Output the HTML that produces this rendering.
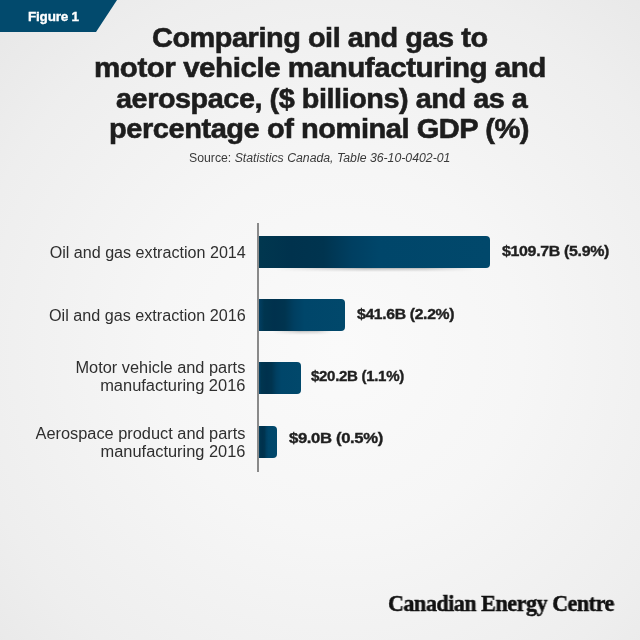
<!DOCTYPE html>
<html><head><meta charset="utf-8">
<style>
html,body{margin:0;padding:0;}
body{width:640px;height:640px;position:relative;overflow:hidden;
 background:radial-gradient(circle 520px at 340px 350px,#fafafa 0%,#f6f6f6 35%,#eeeeee 72%,#e5e5e5 100%);
 font-family:"Liberation Sans",sans-serif;}
.abs{position:absolute;white-space:nowrap;will-change:transform;}
.t{font-weight:bold;font-size:28.5px;color:#1d1d1d;-webkit-text-stroke:0.6px #1d1d1d;letter-spacing:-0.45px;line-height:30px;transform-origin:0 0;}
.lab{font-size:16px;color:#2f2f2f;line-height:18px;transform-origin:100% 0;}
.val{font-weight:bold;font-size:14px;color:#1f1f1f;-webkit-text-stroke:0.35px #1f1f1f;letter-spacing:-0.3px;line-height:16px;transform-origin:0 0;}
.bar{position:absolute;left:258.7px;height:32px;border-radius:0 4px 4px 0;
 background:linear-gradient(90deg,#023f63 0%,#00354f 6%,#00314d 18%,#00344f 30%,#003f61 41%,#00466a 53%,#01486b 100%);}
.shd{position:absolute;height:4px;background:linear-gradient(90deg,rgba(0,0,0,0) 0%,rgba(0,0,0,.3) 45%,rgba(0,0,0,.25) 75%,rgba(0,0,0,0) 100%);-webkit-mask-image:linear-gradient(180deg,#000 0%,rgba(0,0,0,.45) 40%,transparent 100%);}
.axis{position:absolute;left:257px;top:223px;width:1.7px;height:249px;background:#8a8a8a;}
</style></head><body>
<svg class="abs" style="left:0;top:0" width="120" height="34"><polygon points="0,0 117,0 96,32 0,32" fill="#024a6d"/></svg>
<div class="abs" style="left:28px;top:8.6px;font-weight:bold;font-size:13.5px;color:#fff;line-height:16px;-webkit-text-stroke:0.35px #fff;letter-spacing:-0.2px;">Figure 1</div>

<div class="abs t" id="t1" style="left:151.8px;top:22px;transform:scaleX(1.0133)">Comparing oil and gas to</div>
<div class="abs t" id="t2" style="left:93.6px;top:52px;transform:scaleX(1.0371)">motor vehicle manufacturing and</div>
<div class="abs t" id="t3" style="left:116.1px;top:82.8px;transform:scaleX(1.011)">aerospace, ($ billions) and as a</div>
<div class="abs t" id="t4" style="left:108.7px;top:113.4px;transform:scaleX(1.0186)">percentage of nominal GDP (%)</div>

<div class="abs" id="src" style="left:189px;top:151px;transform:scaleX(1.022);transform-origin:0 0;font-size:12px;color:#3a3a3a;line-height:14px;">Source: <i>Statistics Canada, Table 36-10-0402-01</i></div>

<div class="shd" style="left:275px;top:267.5px;width:200px;"></div>
<div class="shd" style="left:272px;top:330.5px;width:60px;opacity:.8"></div>
<div class="axis"></div>
<div class="bar" style="top:236px;width:231.3px;background:linear-gradient(90deg,#01374f 0%,#00324d 14%,#00344f 28%,#003f61 40%,#00466a 52%,#01486b 100%);"></div>
<div class="bar" style="top:299px;width:86.5px;"></div>
<div class="bar" style="top:362.3px;width:41.9px;"></div>
<div class="bar" style="top:425.5px;width:18.6px;"></div>

<div class="abs lab" style="right:394.4px;top:243.9px;transform:scaleX(1.007)">Oil and gas extraction 2014</div>
<div class="abs lab" style="right:394.4px;top:306.7px;transform:scaleX(1.01)">Oil and gas extraction 2016</div>
<div class="abs lab" style="right:394.4px;top:359px;transform:scaleX(1.021)">Motor vehicle and parts</div>
<div class="abs lab" style="right:394.4px;top:377px;transform:scaleX(1.027)">manufacturing 2016</div>
<div class="abs lab" style="right:394.4px;top:425px;transform:scaleX(1.022)">Aerospace product and parts</div>
<div class="abs lab" style="right:394.4px;top:442.5px;transform:scaleX(1.024)">manufacturing 2016</div>

<div class="abs val" style="left:502px;top:243.4px;transform:scaleX(1.1406)">$109.7B (5.9%)</div>
<div class="abs val" style="left:357px;top:306px;transform:scaleX(1.1248)">$41.6B (2.2%)</div>
<div class="abs val" style="left:311px;top:368.2px;transform:scaleX(1.076)">$20.2B (1.1%)</div>
<div class="abs val" style="left:289px;top:430.4px;transform:scaleX(1.191)">$9.0B (0.5%)</div>

<div class="abs" style="left:388px;top:591.8px;font-family:'Liberation Serif',serif;font-weight:bold;font-size:23px;color:#111;line-height:24px;-webkit-text-stroke:0.5px #111;letter-spacing:-0.5px;transform-origin:0 0;transform:scaleX(0.96)">Canadian Energy Centre</div>
</body></html>
